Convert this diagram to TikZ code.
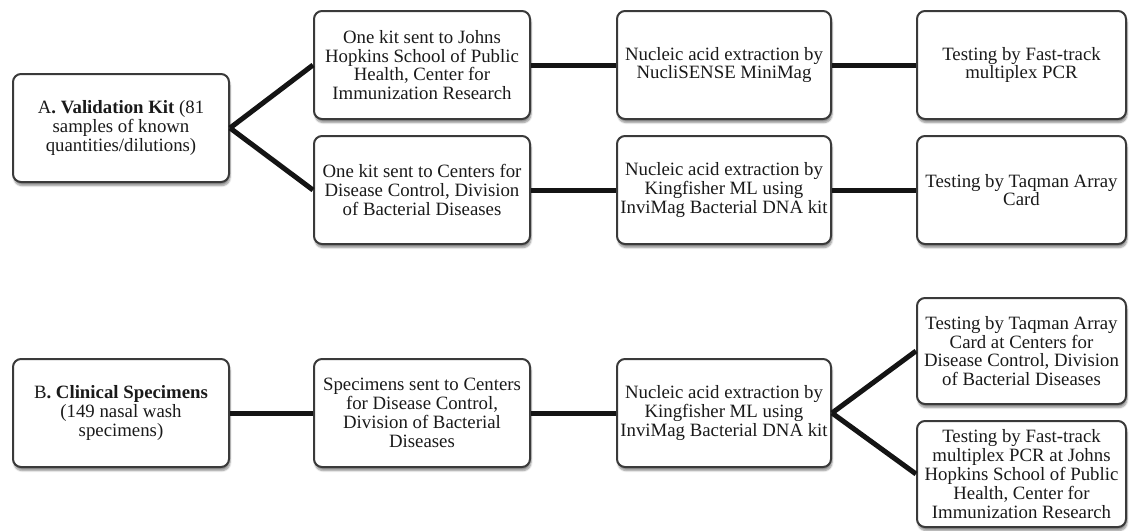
\documentclass[tikz,border=0pt]{standalone}
\usepackage{fontspec}
\setmainfont{Liberation Serif}
\usetikzlibrary{shadows.blur}
\definecolor{boxline}{HTML}{3A3A3A}
\definecolor{inktext}{HTML}{1A1A1A}
\begin{document}
\begin{tikzpicture}[x=1pt,y=-1pt,
	box/.style={draw=boxline,line width=2pt,rounded corners=8pt,fill=white,
		minimum width=216pt,minimum height=108pt,inner sep=2pt,align=center,
		text=inktext,font=\fontsize{18.8}{18.8}\selectfont,
		blur shadow={shadow xshift=1pt,shadow yshift=-3.5pt,shadow opacity=45,shadow blur steps=6}},
	link/.style={line width=5pt,draw=black!92}]
	\useasboundingbox (0,0) rectangle (1129,530);
	\path (121,128) node [box] (valid) {A\textbf{. Validation Kit} (81\\samples of known\\quantities/dilutions)};
	\path (422,65) node [box] (jhu) {One kit sent to Johns\\Hopkins School of Public\\Health, Center for\\Immunization Research};
	\path (422,190) node [box] (cdc) {One kit sent to Centers for\\Disease Control, Division\\of Bacterial Diseases};
	\path (724,65) node [box,minimum width=214pt] (minimag) {Nucleic acid extraction by\\NucliSENSE MiniMag};
	\path (724,190) node [box,minimum width=214pt] (kingA) {Nucleic acid extraction by\\Kingfisher ML using\\InviMag Bacterial DNA kit};
	\path (1021.5,65) node [box,minimum width=209pt] (fastA) {Testing by Fast-track\\multiplex PCR};
	\path (1021.5,190) node [box,minimum width=209pt] (taqA) {Testing by Taqman Array\\Card};
	\path (121,413) node [box] (clin) {B\textbf{. Clinical Specimens}\\(149 nasal wash\\specimens)};
	\path (422,413) node [box] (sent) {Specimens sent to Centers\\for Disease Control,\\Division of Bacterial\\Diseases};
	\path (724,413) node [box,minimum width=214pt] (kingB) {Nucleic acid extraction by\\Kingfisher ML using\\InviMag Bacterial DNA kit};
	\path (1021.5,351) node [box,minimum width=209pt,minimum height=106pt] (taqB) {Testing by Taqman Array\\Card at Centers for\\Disease Control, Division\\of Bacterial Diseases};
	\path (1021.5,474) node [box,minimum width=209pt,minimum height=106pt] (fastB) {Testing by Fast-track\\multiplex PCR at Johns\\Hopkins School of Public\\Health, Center for\\Immunization Research};
	\draw [link] (valid.east) -- (jhu.west);
	\draw [link] (valid.east) -- (cdc.west);
	\draw [link] (jhu.east) -- (minimag.west);
	\draw [link] (cdc.east) -- (kingA.west);
	\draw [link] (minimag.east) -- (fastA.west);
	\draw [link] (kingA.east) -- (taqA.west);
	\draw [link] (clin.east) -- (sent.west);
	\draw [link] (sent.east) -- (kingB.west);
	\draw [link] (kingB.east) -- (taqB.west);
	\draw [link] (kingB.east) -- (fastB.west);
\end{tikzpicture}
\end{document}
